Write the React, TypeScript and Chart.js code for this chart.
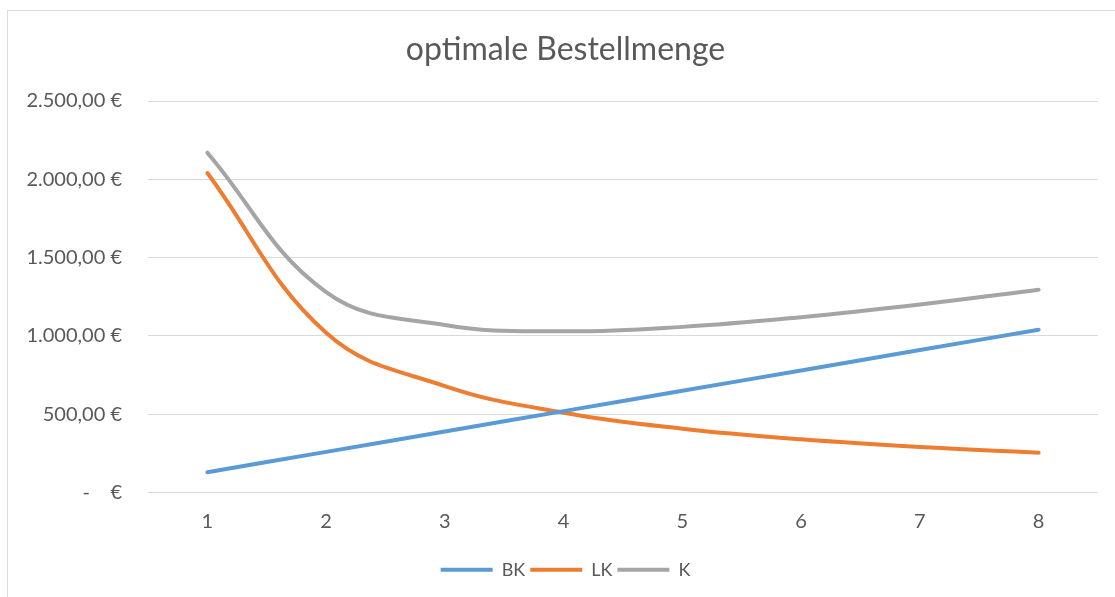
import React, { useEffect, useRef } from "react";
import { Chart, registerables } from "chart.js";

Chart.register(...registerables);

const categories = ["1", "2", "3", "4", "5", "6", "7", "8"];
const bkValues = [130, 260, 390, 520, 650, 780, 910, 1040];
const lkValues = [2040, 1020, 680, 510, 408, 340, 291, 255];
const kValues = [2170, 1280, 1070, 1030, 1058, 1120, 1201, 1295];
const chartTitle = "optimale Bestellmenge";
const seriesNames = ["BK", "LK", "K"];

const FONT = "Lato, 'Open Sans', sans-serif";
const TEXT = "#595959";
const GRID = "#D9D9D9";

function formatEuro(v: number): string {
  if (v === 0) return "-    €";
  const fixed = v.toFixed(2);
  const [intPart, dec] = fixed.split(".");
  const withDots = intPart.replace(/\B(?=(\d{3})+(?!\d))/g, ".");
  return withDots + "," + dec + " €";
}

const borderPlugin = {
  id: "chartBorder",
  afterLayout(chart: any) {
    const shift = (box: any) => {
      if (!box) return;
      box.left = 33;
      box.width = box.right - 33;
    };
    shift(chart.titleBlock);
    shift(chart.legend);
  },
  beforeDraw(chart: any) {
    const ctx = chart.ctx;
    ctx.save();
    ctx.fillStyle = "#ffffff";
    ctx.fillRect(0, 0, chart.width, chart.height);
    ctx.strokeStyle = GRID;
    ctx.lineWidth = 1;
    ctx.strokeRect(7.5, 10.5, chart.width + 20, chart.height + 20);
    ctx.restore();
  },
};

export default function App() {
  const ref = useRef<HTMLCanvasElement | null>(null);

  useEffect(() => {
    if (!ref.current) return;
    const mk = (label: string, data: number[], color: string) => ({
      label,
      data,
      borderColor: color,
      backgroundColor: color,
      borderWidth: 4,
      borderCapStyle: "round" as const,
      borderJoinStyle: "round" as const,
      pointRadius: 0,
      pointHoverRadius: 0,
      tension: 0.4,
      fill: false,
    });
    const chart = new Chart(ref.current, {
      type: "line",
      data: {
        labels: categories,
        datasets: [
          mk(seriesNames[0], bkValues, "#5B9BD5"),
          mk(seriesNames[1], lkValues, "#ED7D31"),
          mk(seriesNames[2], kValues, "#A5A5A5"),
        ],
      },
      options: {
        animation: false,
        responsive: true,
        maintainAspectRatio: false,
        layout: { padding: { top: 10, left: 0, right: 17, bottom: 8.2 } },
        plugins: {
          tooltip: { enabled: false },
          title: {
            display: true,
            text: chartTitle,
            color: TEXT,
            font: { family: FONT, size: 32, weight: "normal", lineHeight: 1.2 },
            padding: { top: 20.8, bottom: 31.8 },
          },
          legend: {
            position: "bottom",
            labels: {
              usePointStyle: true,
              pointStyle: "line",
              pointStyleWidth: 52,
              boxHeight: 4,
              padding: 5,
              color: TEXT,
              font: { family: FONT, size: 18, lineHeight: 1.2 },
            },
          },
        },
        scales: {
          x: {
            offset: true,
            grid: { display: false, drawTicks: false },
            border: { display: false },
            ticks: {
              color: TEXT,
              font: { family: FONT, size: 20, lineHeight: 1.2 },
              padding: 17,
              maxRotation: 0,
            },
            afterFit(scale: any) {
              scale.height = 63.2;
            },
          },
          y: {
            min: 0,
            max: 2500,
            grid: { color: GRID, lineWidth: 1, drawTicks: false },
            border: { display: false },
            ticks: {
              stepSize: 500,
              color: TEXT,
              font: { family: FONT, size: 20, lineHeight: 1.2 },
              padding: 26,
              callback: (v: any) => formatEuro(Number(v)),
            },
            afterFit(scale: any) {
              scale.width = 148;
            },
          },
        },
      },
      plugins: [borderPlugin],
    });
    return () => chart.destroy();
  }, []);

  return (
    <div style={{ position: "absolute", left: 0, top: 0, width: 1115, height: 597 }}>
      <canvas ref={ref} />
    </div>
  );
}
